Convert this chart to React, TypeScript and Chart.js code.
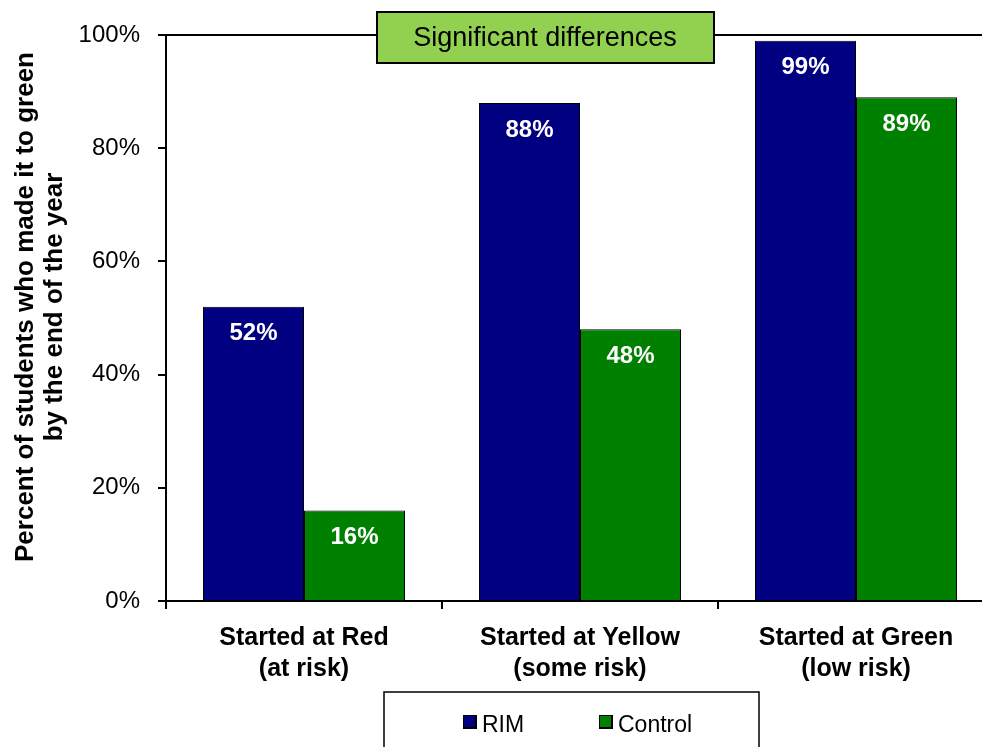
import React, { useEffect, useRef } from "react";
import { Chart, registerables } from "chart.js";

Chart.register(...registerables);

const categories: string[][] = [
  ["Started at Red", "(at risk)"],
  ["Started at Yellow", "(some risk)"],
  ["Started at Green", "(low risk)"],
];
const rimValues = [52, 88, 99];
const controlValues = [16, 48, 89];
const seriesNames = ["RIM", "Control"];
const seriesColors = ["#000080", "#008000"];
const yTicks = [0, 20, 40, 60, 80, 100];
const yTitle = ["Percent of students who made it to green", "by the end of the year"];
const boxTitle = "Significant differences";

const FONT = "'Liberation Sans', Arial, sans-serif";
const CANVAS_W = 1010;
const CANVAS_H = 747;

const decorations = {
  id: "decorations",
  afterDatasetsDraw(chart: any) {
    const ctx = chart.ctx;
    const area = chart.chartArea;
    ctx.save();

    // value labels inside the top of each bar
    ctx.fillStyle = "#ffffff";
    ctx.font = `bold 24px ${FONT}`;
    ctx.textAlign = "center";
    ctx.textBaseline = "middle";
    chart.data.datasets.forEach((ds: any, i: number) => {
      const meta = chart.getDatasetMeta(i);
      meta.data.forEach((el: any, j: number) => {
        ctx.fillText(`${ds.data[j]}%`, el.x, el.y + 27);
      });
    });

    // top frame line of the plot area
    ctx.strokeStyle = "#000";
    ctx.lineWidth = 2;
    ctx.beginPath();
    ctx.moveTo(area.left, area.top);
    ctx.lineTo(area.right, area.top);
    ctx.stroke();
    ctx.restore();
  },
  afterDraw(chart: any) {
    const ctx = chart.ctx;
    ctx.save();

    // rotated y-axis title
    ctx.fillStyle = "#000";
    ctx.font = `bold 26px ${FONT}`;
    ctx.textAlign = "center";
    ctx.textBaseline = "alphabetic";
    const baselines = [33, 62];
    yTitle.forEach((line, i) => {
      ctx.save();
      ctx.translate(baselines[i], 307);
      ctx.rotate(-Math.PI / 2);
      ctx.fillText(line, 0, 0);
      ctx.restore();
    });

    // headline box
    ctx.fillStyle = "#92D050";
    ctx.fillRect(377, 12, 337, 51);
    ctx.strokeStyle = "#000";
    ctx.lineWidth = 2;
    ctx.strokeRect(377, 12, 337, 51);
    ctx.fillStyle = "#000";
    ctx.font = `27px ${FONT}`;
    ctx.textAlign = "center";
    ctx.textBaseline = "middle";
    ctx.fillText(boxTitle, 545, 39);

    // legend box
    ctx.fillStyle = "#fff";
    ctx.fillRect(384, 692, 375, 80);
    ctx.lineWidth = 1.5;
    ctx.strokeRect(384, 692, 375, 80);
    const markerX = [463, 599];
    ctx.font = `23px ${FONT}`;
    ctx.textAlign = "left";
    ctx.textBaseline = "alphabetic";
    seriesNames.forEach((name, i) => {
      const x = markerX[i];
      ctx.fillStyle = "#000";
      ctx.fillRect(x, 715, 14, 14);
      ctx.fillStyle = seriesColors[i];
      ctx.fillRect(x + 1, 716, 11, 11);
      ctx.fillStyle = "#000";
      ctx.fillText(name, x + 19, 732);
    });
    ctx.restore();
  },
};

export default function App() {
  const canvasRef = useRef<HTMLCanvasElement | null>(null);

  useEffect(() => {
    if (!canvasRef.current) return;
    const chart = new Chart(canvasRef.current, {
      type: "bar",
      data: {
        labels: categories,
        datasets: [
          {
            label: seriesNames[0],
            data: rimValues,
            backgroundColor: seriesColors[0],
            borderColor: "#000",
            borderWidth: 1,
            categoryPercentage: 0.732,
            barPercentage: 1,
          },
          {
            label: seriesNames[1],
            data: controlValues,
            backgroundColor: seriesColors[1],
            borderColor: "#000",
            borderWidth: 1,
            categoryPercentage: 0.732,
            barPercentage: 1,
          },
        ],
      },
      options: {
        responsive: false,
        animation: false,
        devicePixelRatio: 1,
        layout: { padding: { left: 0, top: 35, right: CANVAS_W - 994, bottom: 0 } },
        plugins: {
          legend: { display: false },
          title: { display: false },
          tooltip: { enabled: false },
        },
        scales: {
          x: {
            grid: {
              display: true,
              drawOnChartArea: false,
              drawTicks: true,
              tickLength: 8,
              color: "#000",
              lineWidth: 2,
              offset: true,
            },
            border: { display: true, color: "#000", width: 2 },
            ticks: {
              color: "#000",
              font: { family: FONT, size: 25, weight: "bold", lineHeight: 1.25 },
              padding: 13,
              maxRotation: 0,
              autoSkip: false,
            },
            afterFit(scale: any) {
              scale.height = 146;
            },
          },
          y: {
            min: 0,
            max: 100,
            afterBuildTicks(scale: any) {
              scale.ticks = yTicks.map((v) => ({ value: v }));
            },
            grid: {
              display: true,
              drawOnChartArea: false,
              drawTicks: true,
              tickLength: 8,
              color: "#000",
              lineWidth: 2,
            },
            border: { display: true, color: "#000", width: 2 },
            ticks: {
              color: "#000",
              font: { family: FONT, size: 24 },
              padding: 18,
              callback: (v: any) => `${v}%`,
            },
            afterFit(scale: any) {
              scale.width = 166;
            },
          },
        },
      },
      plugins: [decorations],
    });
    return () => chart.destroy();
  }, []);

  return (
    <div
      style={{
        position: "fixed",
        left: 0,
        top: 0,
        width: 982,
        height: 747,
        overflow: "hidden",
        background: "#fff",
      }}
    >
      <canvas
        ref={canvasRef}
        width={CANVAS_W}
        height={CANVAS_H}
        style={{ display: "block", width: CANVAS_W, height: CANVAS_H }}
      />
    </div>
  );
}
